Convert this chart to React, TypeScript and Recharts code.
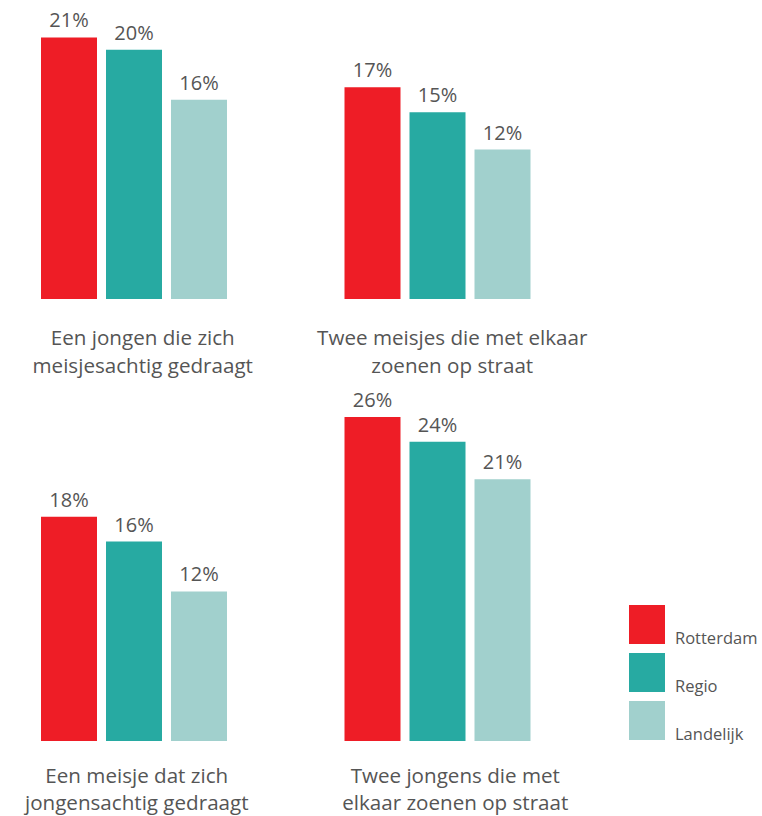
import { BarChart, Bar, XAxis, YAxis, LabelList, Legend } from "recharts";

const topCategories = ["Een jongen die zich\nmeisjesachtig gedraagt", "Twee meisjes die met elkaar\nzoenen op straat"];
const bottomCategories = ["Een meisje dat zich\njongensachtig gedraagt", "Twee jongens die met\nelkaar zoenen op straat"];
const rotterdam = [21, 17, 18, 26];
const regio = [20, 15, 16, 24];
const landelijk = [16, 12, 12, 21];
const seriesNames = ["Rotterdam", "Regio", "Landelijk"];

const COLORS = ["#ee1d26", "#27aaa2", "#a1d0cd"];
const TEXT = "#555555";
const FONT = "'Open Sans', sans-serif";

const topData = topCategories.map((name, i) => ({
  name,
  rotterdam: rotterdam[i],
  regio: regio[i],
  landelijk: landelijk[i],
}));
const bottomData = bottomCategories.map((name, i) => ({
  name,
  rotterdam: rotterdam[i + 2],
  regio: regio[i + 2],
  landelijk: landelijk[i + 2],
}));

function CategoryTick(props: any) {
  const { x, y, payload, index, shifts, first, gap } = props;
  const lines = String(payload.value).split("\n");
  const cx = x + (shifts[index] || 0);
  return (
    <text x={cx} y={y} textAnchor="middle" fill={TEXT} fontSize={20.6} fontFamily={FONT}>
      {lines.map((l: string, i: number) => (
        <tspan key={i} x={cx} dy={i === 0 ? first : gap}>
          {l}
        </tspan>
      ))}
    </text>
  );
}

// legend drawn in series order (recharts hands the payload over reversed here)
function LegendBox() {
  return (
    <svg width={133} height={142} style={{ display: "block", overflow: "visible" }}>
      {seriesNames.map((name, i) => (
        <g key={name}>
          <rect x={0} y={i * 48} width={36} height={39} fill={COLORS[i]} />
          <text x={46} y={i * 48 + 39} fill={TEXT} fontSize={16.5} fontFamily={FONT}>
            {name}
          </text>
        </g>
      ))}
    </svg>
  );
}

const pct = (v: any) => `${v}%`;

function Row({ data, domain, plotHeight, axisHeight, top, shifts, first, gap, legend }: any) {
  return (
    <BarChart
      width={762}
      height={top + plotHeight + axisHeight}
      data={data}
      margin={{ top, right: 173, left: -18, bottom: 0 }}
      barSize={56}
      barGap={9}
    >
      <XAxis
        dataKey="name"
        axisLine={false}
        tickLine={false}
        tickSize={0}
        tickMargin={0}
        interval={0}
        height={axisHeight}
        tick={(p: any) => <CategoryTick {...p} shifts={shifts} first={first} gap={gap} />}
      />
      <YAxis hide domain={domain} />
      {legend && (
        <Legend
          layout="vertical"
          align="center"
          verticalAlign="middle"
          wrapperStyle={{ left: 629, top: top + 213, width: 133 }}
          content={() => <LegendBox />}
        />
      )}
      <Bar dataKey="rotterdam" name={seriesNames[0]} fill={COLORS[0]} isAnimationActive={false}>
        <LabelList dataKey="rotterdam" position="top" offset={10} formatter={pct} fill={TEXT} fontSize={20} fontFamily={FONT} />
      </Bar>
      <Bar dataKey="regio" name={seriesNames[1]} fill={COLORS[1]} isAnimationActive={false}>
        <LabelList dataKey="regio" position="top" offset={10} formatter={pct} fill={TEXT} fontSize={20} fontFamily={FONT} />
      </Bar>
      <Bar dataKey="landelijk" name={seriesNames[2]} fill={COLORS[2]} isAnimationActive={false}>
        <LabelList dataKey="landelijk" position="top" offset={10} formatter={pct} fill={TEXT} fontSize={20} fontFamily={FONT} />
      </Bar>
    </BarChart>
  );
}

export default function App() {
  return (
    <div style={{ position: "absolute", left: 0, top: 0, width: 762, height: 816, background: "#fff", fontFamily: FONT }}>
      <div style={{ position: "absolute", left: 0, top: 0 }}>
        <Row data={topData} domain={[0, 24]} top={0} plotHeight={299} axisHeight={80} shifts={[9, 15]} first={46} gap={28} />
      </div>
      <div style={{ position: "absolute", left: 0, top: 362 }}>
        <Row data={bottomData} domain={[0, 28]} top={30} plotHeight={349} axisHeight={75} shifts={[3, 18]} first={42} gap={27} legend />
      </div>
    </div>
  );
}
